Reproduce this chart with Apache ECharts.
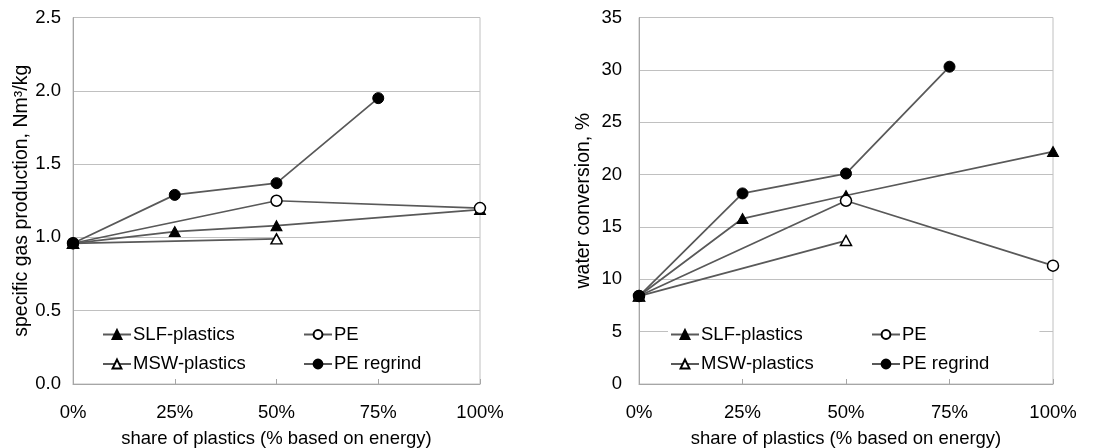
<!DOCTYPE html>
<html>
<head>
<meta charset="utf-8">
<script src="https://cdn.jsdelivr.net/npm/echarts@6/dist/echarts.min.js"></script>
<style>
html,body{margin:0;padding:0;background:#fff;}
#chart{width:1115px;height:448px;}
</style>
</head>
<body>
<div id="chart"></div>
<script>
// ---- data ----
const shares = [0, 25, 50, 75, 100];
// specific gas production, Nm3/kg
const gasSLF = [0.96, 1.04, 1.08, null, 1.19];
const gasMSW = [0.96, null, 0.99, null, null];
const gasPE = [0.96, null, 1.25, null, 1.20];
const gasRegrind = [0.96, 1.29, 1.37, 1.95, null];
// water conversion, %
const wcSLF = [8.4, 15.8, 18.0, null, 22.2];
const wcMSW = [8.4, null, 13.7, null, null];
const wcPE = [8.4, null, 17.5, null, 11.3];
const wcRegrind = [8.4, 18.2, 20.1, 30.3, null];

const xTitle = 'share of plastics (% based on energy)';
const yTitleLeft = 'specific gas production, Nm³/kg';
const yTitleRight = 'water conversion, %';

// ---- styling ----
const FONT = 'Liberation Sans, Arial, sans-serif';
const FS = 18.5;
const FS_YT = 19.5;
const LINE = '#595959';
const GRID = '#c0c0c0';
const AXIS = '#a6a6a6';

function pairs(vals) {
  const out = [];
  vals.forEach((v, i) => { if (v !== null) out.push([shares[i], v]); });
  return out;
}

const markerStyles = {
  'SLF-plastics': { symbol: 'triangle', symbolSize: [11, 10], itemStyle: { color: '#000', borderColor: '#000', borderWidth: 1 } },
  'MSW-plastics': { symbol: 'triangle', symbolSize: [11, 10], itemStyle: { color: '#fff', borderColor: '#000', borderWidth: 1.5 } },
  'PE': { symbol: 'circle', symbolSize: 11, itemStyle: { color: '#fff', borderColor: '#000', borderWidth: 1.5 } },
  'PE regrind': { symbol: 'circle', symbolSize: 11, itemStyle: { color: '#000', borderColor: '#000', borderWidth: 1 } }
};

function makeSeries(name, vals, idx) {
  const m = markerStyles[name];
  return {
    name: name,
    type: 'line',
    xAxisIndex: idx,
    yAxisIndex: idx,
    data: pairs(vals),
    symbol: m.symbol,
    symbolSize: m.symbolSize,
    showAllSymbol: true,
    itemStyle: m.itemStyle,
    lineStyle: { color: LINE, width: 1.75 },
    emphasis: { disabled: true },
    animation: false
  };
}

function xAxis(idx) {
  return {
    type: 'value', gridIndex: idx, min: 0, max: 100, interval: 25,
    axisLine: { show: true, lineStyle: { color: AXIS, width: 1 } },
    axisTick: { show: true, inside: true, length: 5, lineStyle: { color: AXIS } },
    splitLine: { show: false },
    axisLabel: { formatter: '{value}%', color: '#000', fontFamily: FONT, fontSize: FS, margin: 19 },
    name: xTitle, nameLocation: 'middle', nameGap: 45,
    nameTextStyle: { color: '#000', fontFamily: FONT, fontSize: FS }
  };
}

function yAxis(idx, max, interval, decimals, title, margin, gap) {
  return {
    type: 'value', gridIndex: idx, min: 0, max: max, interval: interval,
    axisLine: { show: true, lineStyle: { color: AXIS, width: 1 } },
    axisTick: { show: false },
    splitLine: { show: true, lineStyle: { color: GRID, width: 1 } },
    axisLabel: { formatter: v => v.toFixed(decimals), color: '#000', fontFamily: FONT, fontSize: FS, margin: margin },
    name: title, nameLocation: 'middle', nameGap: gap, nameRotate: 90,
    nameTextStyle: { color: '#000', fontFamily: FONT, fontSize: FS_YT }
  };
}

function legend(names, left, padRight) {
  return {
    show: true,
    data: names,
    orient: 'vertical',
    left: left,
    top: 323,
    itemWidth: 28,
    itemHeight: 11,
    itemGap: 10.5,
    padding: [2, padRight, 2, 2],
    backgroundColor: '#fff',
    selectedMode: false,
    textStyle: { color: '#000', fontFamily: FONT, fontSize: FS, padding: [0, 0, 0, -3] }
  };
}

const chart = echarts.init(document.getElementById('chart'), null, { renderer: 'canvas' });
chart.setOption({
  animation: false,
  backgroundColor: '#fff',
  grid: [
    { left: 73, top: 17.5, width: 407, bottom: 64, show: true, borderColor: GRID, borderWidth: 1, containLabel: false, outerBoundsMode: 'none' },
    { left: 639, top: 17.5, width: 414, bottom: 64, show: true, borderColor: GRID, borderWidth: 1, containLabel: false, outerBoundsMode: 'none' }
  ],
  legend: [
    legend(['SLF-plastics', 'MSW-plastics'], 100, 20),
    legend(['PE', 'PE regrind'], 301, 20),
    legend(['SLF-plastics', 'MSW-plastics'], 668, 70),
    legend(['PE', 'PE regrind'], 869, 50)
  ],
  xAxis: [xAxis(0), xAxis(1)],
  yAxis: [
    yAxis(0, 2.5, 0.5, 1, yTitleLeft, 12, 41),
    yAxis(1, 35, 5, 0, yTitleRight, 17, 45)
  ],
  series: [
    makeSeries('SLF-plastics', gasSLF, 0),
    makeSeries('MSW-plastics', gasMSW, 0),
    makeSeries('PE', gasPE, 0),
    makeSeries('PE regrind', gasRegrind, 0),
    makeSeries('SLF-plastics', wcSLF, 1),
    makeSeries('MSW-plastics', wcMSW, 1),
    makeSeries('PE', wcPE, 1),
    makeSeries('PE regrind', wcRegrind, 1)
  ]
});
</script>
</body>
</html>
